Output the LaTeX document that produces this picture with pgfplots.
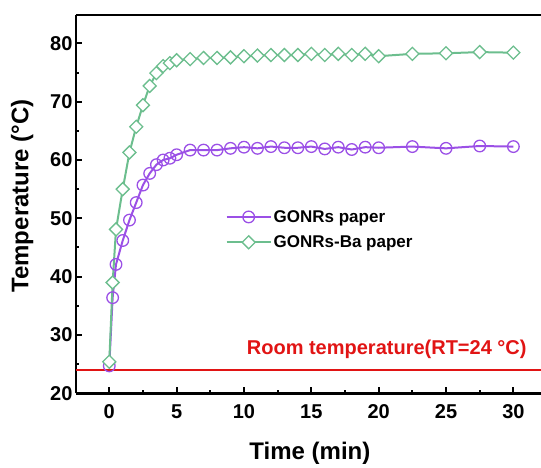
\documentclass[border=0pt]{standalone}
\usepackage{pgfplots}
\pgfplotsset{compat=1.18}
\usepackage{fontspec}
\setmainfont{Liberation Sans}
\definecolor{cpur}{RGB}{155,80,230}
\definecolor{cgrn}{RGB}{108,190,142}
\definecolor{cred}{RGB}{225,20,20}
\begin{document}
\begin{tikzpicture}
\begin{axis}[
  scale only axis, width=465pt, height=378.3pt,
  xmin=-2.47, xmax=32.05, ymin=20, ymax=84.86,
  axis x line=box, axis y line=left,
  x axis line style={-, line width=2.5pt},
  y axis line style={-, line width=2.5pt},
  xtick pos=left, ytick pos=left,
  xtick={0,5,10,15,20,25,30}, ytick={20,30,40,50,60,70,80},
  minor x tick num=1, minor y tick num=1,
  tick align=inside,
  major tick length=6pt, minor tick length=3pt,
  every tick/.style={black, line width=2pt},
  /pgf/number format/assume math mode=true,
  ticklabel style={font=\bfseries\fontsize{20}{24}\selectfont},
  xticklabel style={yshift=-8pt},
  xlabel={Time (min)}, ylabel={Temperature (°C)},
  every axis x label/.style={at={(axis description cs:0.503,-0.158)}, anchor=center, font=\bfseries\fontsize{24}{28}\selectfont},
  every axis y label/.style={at={(axis description cs:-0.116,0.5216)}, anchor=center, rotate=90, font=\bfseries\fontsize{24}{28}\selectfont},
  legend style={draw=none, fill=none, font=\bfseries\fontsize{17}{20}\selectfont,
    at={(rel axis cs:0.315,0.495)}, anchor=north west, row sep=8pt},
  legend cell align=left,
  legend image code/.code={\draw[mark repeat=2,mark phase=2,#1] plot coordinates {(0pt,0pt) (22pt,0pt) (44pt,0pt)};},
  clip=false,
]
\addplot[cred, line width=1.8pt, forget plot] coordinates {(-2.47,24) (32.05,24)};
\addplot[cpur, line width=2pt, mark=o, mark size=5.8pt, mark options={fill=white, line width=1.3pt}] coordinates {
(0,24.7) (0.25,36.4) (0.5,42.1) (1,46.2) (1.5,49.7) (2,52.7) (2.5,55.7) (3,57.7) (3.5,59.2) (4,60.0) (4.5,60.3) (5,60.9)
(6,61.7) (7,61.7) (8,61.7) (9,62.0) (10,62.2) (11,62.0) (12,62.3) (13,62.1) (14,62.1) (15,62.3) (16,61.9) (17,62.2) (18,61.8) (19,62.2) (20,62.1)
(22.5,62.3) (25,62.0) (27.5,62.4) (30,62.3)};
\addlegendentry{GONRs paper}
\addplot[cgrn, line width=2pt, mark=square*, mark size=4.6pt, mark options={fill=white, line width=1.3pt, rotate=45}] coordinates {
(0,25.4) (0.25,39.0) (0.5,48.1) (1,55.0) (1.5,61.3) (2,65.7) (2.5,69.4) (3,72.7) (3.5,74.9) (4,76.1) (4.5,76.6) (5,77.1)
(6,77.3) (7,77.5) (8,77.5) (9,77.6) (10,77.8) (11,77.9) (12,78.0) (13,78.0) (14,78.0) (15,78.2) (16,78.0) (17,78.2) (18,78.0) (19,78.2) (20,77.8)
(22.5,78.2) (25,78.3) (27.5,78.5) (30,78.4)};
\addlegendentry{GONRs-Ba paper}
\node[cred, anchor=west, font=\bfseries\fontsize{20}{24}\selectfont, inner sep=0pt] at (axis cs:10.2,27.6) {Room temperature(RT=24 °C)};
\coordinate (SW) at (rel axis cs:0,0);
\end{axis}
\pgfresetboundingbox
\path ([xshift=-76pt,yshift=-73.7pt]SW) rectangle ++(541pt,467pt);
\end{tikzpicture}
\end{document}
